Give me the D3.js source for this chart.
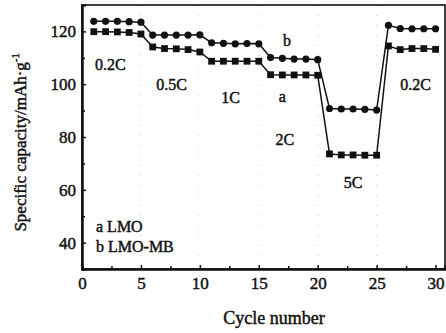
<!DOCTYPE html>
<html>
<head>
<meta charset="utf-8">
<script src="https://cdn.jsdelivr.net/npm/d3@7"></script>
<style>
  html, body { margin: 0; padding: 0; background: #fff; }
  svg { display: block; }
  text { font-family: "Liberation Serif", "Times New Roman", serif; fill: #111; stroke: #111; stroke-width: 0.45px; }
</style>
</head>
<body>
<svg id="chart" width="446" height="333"></svg>
<script>
// Rate capability: specific capacity per cycle at stepped C-rates
const cycles = d3.range(1, 31);
const lmo = [119.9, 119.9, 119.8, 119.6, 119.0,
             114.1, 113.5, 113.4, 113.1, 112.2,
             108.7, 108.7, 108.7, 108.7, 108.7,
             103.6, 103.5, 103.5, 103.5, 103.4,
             73.6, 73.2, 73.2, 73.1, 73.1,
             114.5, 113.1, 113.5, 113.5, 113.2];
const lmoMB = [123.8, 123.8, 123.8, 123.7, 123.5,
               118.6, 118.6, 118.6, 118.6, 118.7,
               115.7, 115.5, 115.3, 115.4, 115.3,
               110.1, 109.8, 109.5, 109.5, 109.3,
               90.8, 90.6, 90.6, 90.5, 90.2,
               122.3, 121.1, 121.0, 121.0, 121.0];
const xTicks = [0, 5, 10, 15, 20, 25, 30];
const yTicks = [40, 60, 80, 100, 120];
const rateLabels = [
  { text: "0.2C", cycle: 2.4, value: 107.5 },
  { text: "0.5C", cycle: 7.6, value: 100 },
  { text: "1C", cycle: 12.6, value: 94.8 },
  { text: "b", cycle: 17.4, value: 116.5 },
  { text: "a", cycle: 17.0, value: 95.4 },
  { text: "2C", cycle: 17.2, value: 79.2 },
  { text: "5C", cycle: 23.0, value: 62.8 },
  { text: "0.2C", cycle: 28.3, value: 100 }
];
const legendItems = ["a LMO", "b LMO-MB"];

const svg = d3.select("#chart");
const margin = { left: 82, right: 1, top: 5, bottom: 64 };
const W = 446, H = 333;

const x = d3.scaleLinear().domain([0, 30.8]).range([margin.left, W - margin.right]);
const y = d3.scaleLinear().domain([30, 130]).range([H - margin.bottom, margin.top]);

// faint dotted guide lines at rate changes
svg.append("g").selectAll("line").data([5, 10, 15, 20, 25]).join("line")
  .attr("x1", d => x(d)).attr("x2", d => x(d))
  .attr("y1", y(130)).attr("y2", y(30))
  .attr("stroke", "#bbb").attr("stroke-width", 0.8)
  .attr("stroke-dasharray", "1,9");

// frame
svg.append("rect")
  .attr("x", x(0)).attr("y", y(130))
  .attr("width", x(30.8) - x(0)).attr("height", y(30) - y(130))
  .attr("fill", "none").attr("stroke", "#111").attr("stroke-width", 1.6);

// axes with inward ticks
const xAxis = d3.axisBottom(x).tickValues(xTicks).tickSize(-4).tickPadding(8).tickFormat(d3.format("d"));
const xMinor = d3.axisBottom(x).tickValues(d3.range(2.5, 30, 5)).tickSize(-3).tickFormat("");
const yAxis = d3.axisLeft(y).tickValues(yTicks).tickSize(-4).tickPadding(6).tickFormat(d3.format("d"));
const yMinor = d3.axisLeft(y).tickValues([50, 70, 90, 110]).tickSize(-3).tickFormat("");

function styleAxis(g) {
  g.select(".domain").attr("stroke", "#111").attr("stroke-width", 2);
  g.selectAll(".tick line").attr("stroke", "#111").attr("stroke-width", 1.5);
  g.selectAll(".tick text").style("font-size", "17px").attr("fill", "#111")
    .style("font-family", "'Liberation Serif', 'Times New Roman', serif");
}
svg.append("g").attr("transform", `translate(0,${y(30)})`).call(xAxis).call(styleAxis);
svg.append("g").attr("transform", `translate(0,${y(30)})`).call(xMinor).call(styleAxis);
svg.append("g").attr("transform", `translate(${x(0)},0)`).call(yAxis).call(styleAxis);
svg.append("g").attr("transform", `translate(${x(0)},0)`).call(yMinor).call(styleAxis);

// series lines
const line = d3.line().x((d, i) => x(cycles[i])).y(d => y(d));
[lmo, lmoMB].forEach(s => {
  svg.append("path").datum(s).attr("d", line)
    .attr("fill", "none").attr("stroke", "#111").attr("stroke-width", 1.5);
});

// markers: squares for LMO, circles for LMO-MB
svg.append("g").selectAll("rect").data(lmo).join("rect")
  .attr("x", (d, i) => x(cycles[i]) - 3.4).attr("y", d => y(d) - 3.4)
  .attr("width", 6.8).attr("height", 6.8).attr("fill", "#111");
svg.append("g").selectAll("circle").data(lmoMB).join("circle")
  .attr("cx", (d, i) => x(cycles[i])).attr("cy", d => y(d))
  .attr("r", 3.6).attr("fill", "#111");

// rate annotations
svg.append("g").selectAll("text").data(rateLabels).join("text")
  .attr("x", d => x(d.cycle)).attr("y", d => y(d.value))
  .attr("text-anchor", "middle").attr("dominant-baseline", "central")
  .style("font-size", "16px").text(d => d.text);

// legend
svg.append("g").selectAll("text").data(legendItems).join("text")
  .attr("x", 96).attr("y", (d, i) => 226 + i * 20)
  .attr("dominant-baseline", "central")
  .style("font-size", "16px").text(d => d);

// axis titles
svg.append("text")
  .attr("x", x(16.3)).attr("y", 318)
  .attr("text-anchor", "middle").attr("dominant-baseline", "central")
  .style("font-size", "18px").text("Cycle number");

const yl = svg.append("text")
  .attr("transform", `translate(20,${y(78)}) rotate(-90)`)
  .attr("text-anchor", "middle").attr("dominant-baseline", "central")
  .style("font-size", "17px");
yl.append("tspan").text("Specific capacity/mAh·g");
yl.append("tspan").attr("dy", "-0.45em").style("font-size", "11px").text("-1");
</script>
</body>
</html>
